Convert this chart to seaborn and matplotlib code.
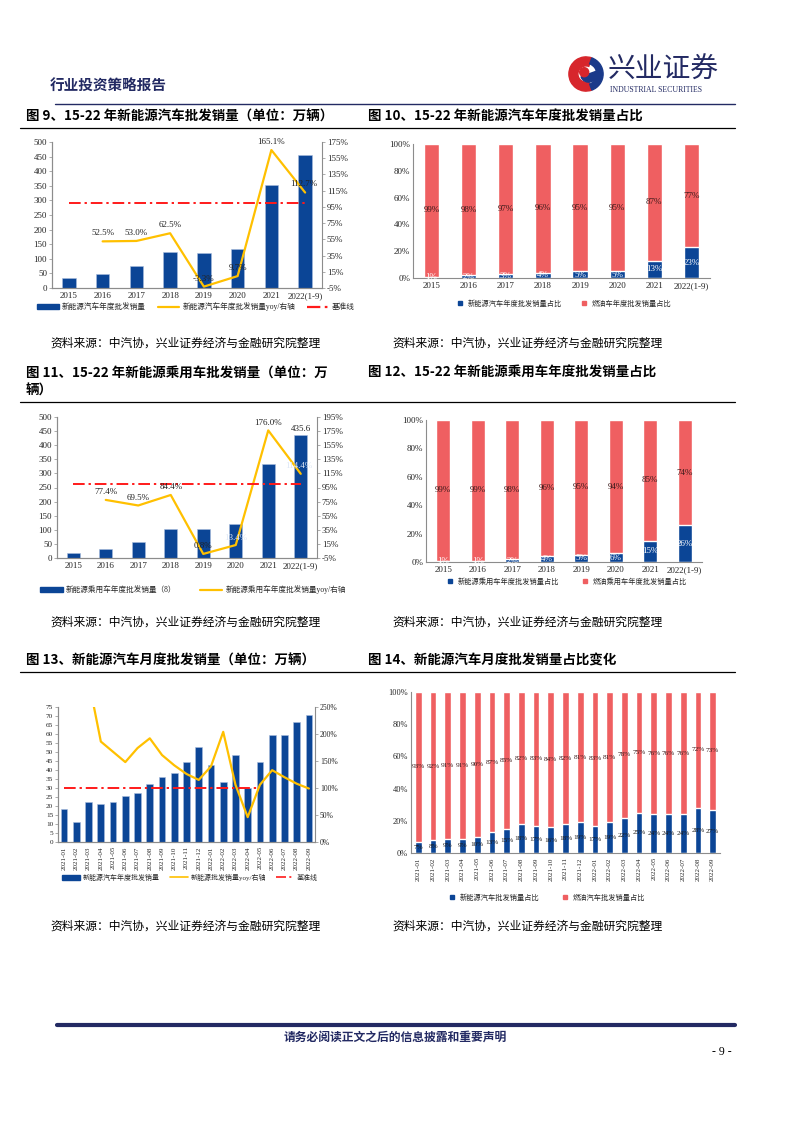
import numpy as np
import pandas as pd
import matplotlib
matplotlib.use('Agg')
import matplotlib.pyplot as plt
from matplotlib.lines import Line2D
from matplotlib.patches import Patch, Wedge, Circle
import seaborn as sns

# ---------------- data ----------------
years = ['2015', '2016', '2017', '2018', '2019', '2020', '2021', '2022(1-9)']
nev_sales = [33, 49, 77, 124, 121, 132, 352, 457]
nev_yoy = [np.nan, 52.5, 53.0, 62.5, -3.3, 9.7, 165.1, 112.7]
nev_base = [100, 100, 100, 100, 100, 100, 100, 100]
nev_share = [1, 2, 3, 4, 5, 5, 13, 23]
ice_share = [99, 98, 97, 96, 95, 95, 87, 77]

pv_sales = [19, 33, 57, 104, 104, 120, 332, 435.6]
pv_yoy = [np.nan, 77.4, 69.5, 84.4, 0.8, 13.4, 176.0, 114.4]
pv_base = [100, 100, 100, 100, 100, 100, 100, 100]
pv_share = [1, 1, 2, 4, 5, 6, 15, 26]
pv_ice_share = [99, 99, 98, 96, 95, 94, 85, 74]

months = ['2021-01', '2021-02', '2021-03', '2021-04', '2021-05', '2021-06', '2021-07',
          '2021-08', '2021-09', '2021-10', '2021-11', '2021-12', '2022-01', '2022-02',
          '2022-03', '2022-04', '2022-05', '2022-06', '2022-07', '2022-08', '2022-09']
month_sales = [18.1, 11.0, 22.5, 20.9, 22.0, 25.3, 27.0, 32.0, 35.9, 38.6, 44.7,
               53.0, 42.9, 33.6, 48.1, 29.9, 44.7, 59.7, 59.3, 66.4, 70.6]
month_yoy = [np.nan, np.nan, 300, 186, 167, 148, 174, 192, 161, 142, 126,
             115, 140, 204, 106, 46, 106, 133, 120, 108, 99]
month_base = [100, 100, 100, 100, 100, 100, 100, 100, 100, 100, 100,
              100, 100, 100, 100, 100, 100, np.nan, np.nan, np.nan, np.nan]
month_nev_share = [7, 8, 9, 9, 10, 13, 15, 18, 17, 16, 18, 19, 17, 19, 22, 25, 24, 24, 24, 28, 27]
month_ice_share = [93, 92, 91, 91, 90, 87, 85, 82, 83, 84, 82, 81, 83, 81, 78, 75, 76, 76, 76, 72, 73]

BLUE = '#0b4596'
RED_BAR = '#ef5f61'
YELLOW = '#ffc000'
NAVY = '#232a63'
GRID = '#8c8c8c'
DASHDOT = (0, (6, 2, 1.2, 2))

sns.set_theme(style='white')
plt.rcParams['font.family'] = ['Liberation Serif', 'Noto Sans CJK SC']
plt.rcParams['axes.unicode_minus'] = False

W, H = 794, 1123
fig = plt.figure(figsize=(7.94, 11.23), dpi=100)


def box(x0, y0, x1, y1):
    return fig.add_axes([x0 / W, 1 - y1 / H, (x1 - x0) / W, (y1 - y0) / H])


def ftext(x, y, s, **kw):
    fig.text(x / W, 1 - y / H, s, **kw)


def hline(x0, x1, y, **kw):
    fig.add_artist(Line2D([x0 / W, x1 / W], [1 - y / H, 1 - y / H], **kw))


def style_spines(ax, right=False):
    for side in ['top', 'right', 'left', 'bottom']:
        ax.spines[side].set_visible(False)
    ax.spines['left'].set_visible(True)
    ax.spines['bottom'].set_visible(True)
    if right:
        ax.spines['right'].set_visible(True)
    for sp in ax.spines.values():
        sp.set_color(GRID)
        sp.set_linewidth(0.8)


def bar_line(ax, cats, sales, yoy, base, ylim1, yt1, ylim2, yt2, bw, xfs=6.5, rot=0):
    n = len(cats)
    df = pd.DataFrame({'cat': cats, 'sales': sales})
    sns.barplot(data=df, x='cat', y='sales', color=BLUE, saturation=1, width=bw,
                edgecolor='#a9bcdc', linewidth=0.4, ax=ax)
    ax.set_xlim(-0.5, n - 0.5)
    ax.set_ylim(*ylim1)
    ax.set_yticks(yt1)
    ax.set_xlabel('')
    ax.set_ylabel('')
    ax.tick_params(axis='y', labelsize=6.5, length=2, width=0.5, pad=1.5, left=True, color=GRID)
    ax.tick_params(axis='x', labelsize=xfs, length=0, pad=3, rotation=rot)
    ax2 = ax.twinx()
    pos = np.arange(n)
    sns.lineplot(x=pos, y=yoy, ax=ax2, color=YELLOW, linewidth=1.6)
    if base is not None:
        sns.lineplot(x=pos, y=base, ax=ax2, color='#ff1a1a', linewidth=1.4, linestyle=DASHDOT)
    ax2.set_ylim(*ylim2)
    ax2.set_yticks(yt2)
    ax2.set_yticklabels([f'{v}%' for v in yt2])
    ax2.set_ylabel('')
    ax2.tick_params(axis='y', labelsize=6.5, length=2, width=0.5, pad=1.5, right=True, color=GRID)
    ax2.grid(False)
    ax.grid(False)
    style_spines(ax)
    style_spines(ax2, right=True)
    ax2.set_xlim(-0.5, n - 0.5)
    return ax2


def stacked(ax, cats, nev, ice, bw, fs, nev_color, ice_color, xfs=6.5, rot=0):
    n = len(cats)
    df = pd.DataFrame({'cat': cats, 'total': np.add(nev, ice), 'nev': nev})
    sns.barplot(data=df, x='cat', y='total', color=RED_BAR, saturation=1, width=bw, ax=ax)
    sns.barplot(data=df, x='cat', y='nev', color=BLUE, saturation=1, width=bw, ax=ax)
    ax.set_xlim(-0.5, n - 0.5)
    ax.set_ylim(0, 100)
    ax.set_yticks([0, 20, 40, 60, 80, 100])
    ax.set_yticklabels([f'{v}%' for v in [0, 20, 40, 60, 80, 100]])
    ax.set_xlabel('')
    ax.set_ylabel('')
    ax.tick_params(axis='y', labelsize=6.5, length=0, pad=2)
    ax.tick_params(axis='x', labelsize=xfs, length=0, pad=3, rotation=rot)
    ax.grid(False)
    style_spines(ax)
    for i in range(n):
        ax.text(i, nev[i] / 2, f'{nev[i]}%', ha='center', va='center', fontsize=fs, color=nev_color)
        ax.text(i, nev[i] + ice[i] / 2, f'{ice[i]}%', ha='center', va='center', fontsize=fs, color=ice_color)


def legend_at(ax, handles, labels, cx, cy, **kw):
    opts = dict(loc='center', bbox_to_anchor=(cx / W, 1 - cy / H), bbox_transform=fig.transFigure,
                ncol=len(handles), frameon=False, fontsize=5.5, handletextpad=0.4,
                borderaxespad=0, borderpad=0)
    opts.update(kw)
    ax.legend(handles, labels, **opts)


def sq(c):
    return Line2D([], [], marker='s', color=c, linestyle='none', markersize=3)


# ---------------- header ----------------
ftext(50, 86, '行业投资策略报告', fontsize=10.5, color=NAVY, fontweight='bold',
      family=['Noto Sans CJK SC'], va='center')
hline(55, 735, 104, color=NAVY, linewidth=1.0)

lg = fig.add_axes([568 / W, 1 - 92 / H, 36 / W, 36 / H])
lg.set_xlim(-1, 1)
lg.set_ylim(-1, 1)
lg.set_aspect('equal')
lg.axis('off')
lg.add_patch(Wedge((0, 0), 0.95, 70, 290, width=0.5, color='#d7262c'))
lg.add_patch(Wedge((0, 0), 0.95, 290, 70, width=0.35, color='#1a3a8a'))
lg.add_patch(Wedge((0.15, 0.0), 0.45, 200, 20, color='#1a3a8a'))
lg.add_patch(Circle((-0.1, 0.1), 0.25, color='#d7262c'))
ftext(608, 70, '兴业证券', fontsize=20, color=NAVY, family=['Noto Sans CJK SC'], va='center')
ftext(610, 90, 'INDUSTRIAL SECURITIES', fontsize=5.6, color=NAVY, va='center')

# ---------------- titles ----------------
tkw = dict(fontsize=9.7, fontweight='bold', family=['Noto Sans CJK SC'], va='center', color='black')
ftext(26, 117, '图 9、15-22 年新能源汽车批发销量（单位：万辆）', **tkw)
ftext(368, 117, '图 10、15-22 年新能源汽车年度批发销量占比', **tkw)
hline(20, 735, 128, color='black', linewidth=0.9)

ftext(26, 373, '图 11、15-22 年新能源乘用车批发销量（单位：万', **tkw)
ftext(26, 391, '辆）', **tkw)
ftext(368, 373, '图 12、15-22 年新能源乘用车年度批发销量占比', **tkw)
hline(20, 735, 402, color='black', linewidth=0.9)

ftext(26, 661, '图 13、新能源汽车月度批发销量（单位：万辆）', **tkw)
ftext(368, 661, '图 14、新能源汽车月度批发销量占比变化', **tkw)
hline(20, 735, 672, color='black', linewidth=0.9)

skw = dict(fontsize=8.5, family=['Noto Sans CJK SC'], va='center', color='black')
src = '资料来源：中汽协，兴业证券经济与金融研究院整理'
for yy in [343, 622, 926]:
    ftext(50, yy, src, **skw)
    ftext(392, yy, src, **skw)

# ---------------- chart 9 ----------------
ax9 = box(52, 142, 322, 288)
a92 = bar_line(ax9, years, nev_sales, nev_yoy, nev_base, (0, 500), range(0, 501, 50),
               (-5, 175), list(range(-5, 176, 20)), 0.4)
for i, v in enumerate(nev_yoy):
    if np.isnan(v):
        continue
    dx = -0.05 if i == len(years) - 1 else 0
    a92.text(i + dx, v + 5, f'{v:.1f}%', ha='center', va='bottom', fontsize=6.5, color='#222222')
legend_at(ax9, [Patch(color=BLUE), Line2D([], [], color=YELLOW, lw=1.6),
                Line2D([], [], color='#ff1a1a', lw=1.6, linestyle=DASHDOT)],
          ['新能源汽车年度批发销量', '新能源汽车年度批发销量yoy/右轴', '基准线'],
          196, 307, handlelength=2.8, columnspacing=1.6)

# ---------------- chart 10 ----------------
ax10 = box(413, 144, 710, 278)
stacked(ax10, years, nev_share, ice_share, 0.41, 6.5, 'white', '#3a1a1a')
legend_at(ax10, [sq(BLUE), sq(RED_BAR)], ['新能源汽车年度批发销量占比', '燃油车年度批发销量占比'],
          562, 303, fontsize=5.2, handletextpad=0.1, columnspacing=2.0)

# ---------------- chart 11 ----------------
ax11 = box(57, 417, 317, 558)
a112 = bar_line(ax11, years, pv_sales, pv_yoy, pv_base, (0, 500), range(0, 501, 50),
                (-5, 195), list(range(-5, 196, 20)), 0.4)
for i, v in enumerate(pv_yoy):
    if np.isnan(v):
        continue
    col = '#dde6f5' if i in (5, 7) else '#222222'
    dx = -0.05 if i == len(years) - 1 else 0
    a112.text(i + dx, v + 5, f'{v:.1f}%', ha='center', va='bottom', fontsize=6.5, color=col)
ax11.text(len(years) - 1, pv_sales[-1] + 8, f'{pv_sales[-1]:.1f}', ha='center', va='bottom',
          fontsize=6.5, color='#222222')
legend_at(ax11, [Patch(color=BLUE), Line2D([], [], color=YELLOW, lw=1.6)],
          ['新能源乘用车年度批发销量（8）', '新能源乘用车年度批发销量yoy/右轴'],
          193, 590, handlelength=3.0, columnspacing=3.0)

# ---------------- chart 12 ----------------
ax12 = box(426, 420, 702, 562)
stacked(ax12, years, pv_share, pv_ice_share, 0.4, 6.5, 'white', '#3a1a1a')
legend_at(ax12, [sq(BLUE), sq(RED_BAR)], ['新能源乘用车年度批发销量占比', '燃油乘用车年度批发销量占比'],
          565, 581, fontsize=5.2, handletextpad=0.1, columnspacing=2.5)

# ---------------- chart 13 ----------------
ax13 = box(58, 707, 315, 842)
a132 = bar_line(ax13, months, month_sales, month_yoy, month_base, (0, 75), range(0, 76, 5),
                (0, 250), list(range(0, 251, 50)), 0.55, xfs=5, rot=90)
ax13.tick_params(axis='y', labelsize=5.2)
a132.tick_params(axis='y', labelsize=5.5)
legend_at(ax13, [Patch(color=BLUE), Line2D([], [], color=YELLOW, lw=1.2),
                 Line2D([], [], color='#ff1a1a', lw=1.2, linestyle=DASHDOT)],
          ['新能源汽车年度批发销量', '新能源批发销量yoy/右轴', '基准线'],
          190, 877, fontsize=5.0, handlelength=2.6, columnspacing=1.4)

# ---------------- chart 14 ----------------
ax14 = box(411, 692, 720, 853)
stacked(ax14, months, month_nev_share, month_ice_share, 0.45, 5.2, '#1a1a1a', '#3a1a1a',
        xfs=5, rot=90)
ax14.tick_params(axis='y', labelsize=6)
legend_at(ax14, [sq(BLUE), sq(RED_BAR)], ['新能源汽车批发销量占比', '燃油汽车批发销量占比'],
          545, 897, fontsize=5.2, handletextpad=0.1, columnspacing=2.5)

# ---------------- footer ----------------
hline(57, 735, 1025, color=NAVY, linewidth=3)
ftext(395, 1037, '请务必阅读正文之后的信息披露和重要声明', fontsize=8.5, fontweight='bold',
      family=['Noto Sans CJK SC'], color=NAVY, ha='center', va='center')
ftext(722, 1052, '- 9 -', fontsize=8.5, color='black', ha='center', va='center')

fig.savefig('out.png', dpi=100)
